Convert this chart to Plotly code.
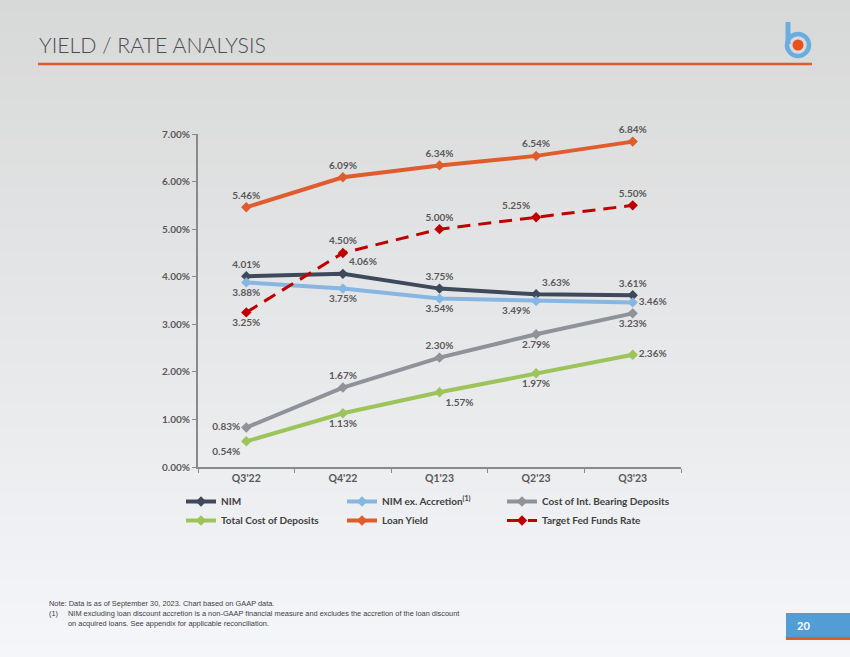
import plotly.graph_objects as go

quarters = ["Q3'22", "Q4'22", "Q1'23", "Q2'23", "Q3'23"]

nim = [4.01, 4.06, 3.75, 3.63, 3.61]
nim_ex_accretion = [3.88, 3.75, 3.54, 3.49, 3.46]
cost_int_bearing = [0.83, 1.67, 2.30, 2.79, 3.23]
total_cost_deposits = [0.54, 1.13, 1.57, 1.97, 2.36]
loan_yield = [5.46, 6.09, 6.34, 6.54, 6.84]
fed_funds = [3.25, 4.50, 5.00, 5.25, 5.50]

# where each data label sits relative to its point
pos_nim = ["top center", "top right", "top center", "top right", "top center"]
pos_nim_ex = ["bottom center", "bottom center", "bottom center", "bottom left", "middle right"]
pos_cost_ib = ["middle left", "top center", "top center", "bottom center", "bottom center"]
pos_total = ["bottom left", "bottom center", "bottom right", "bottom center", "middle right"]
pos_loan = ["top center"] * 5
pos_fed = ["bottom center", "top center", "top center", "top left", "top center"]

# plot area in page pixels
L, R, T, B = 198, 681, 134, 467
W, H = 850, 657


def xp(px):
    return (px - L) / (R - L)


def yp(py):
    return (B - py) / (B - T)


label_font = dict(family="Lato", size=10, color="#595959", weight="bold")


def series(name, values, color, positions, legend, dash="solid", width=4):
    return go.Scatter(
        x=quarters, y=values, name=name, legend=legend,
        mode="lines+markers+text",
        line=dict(color=color, width=width, dash=dash),
        marker=dict(symbol="diamond", size=8, color=color),
        text=[f"{v:.2f}%" for v in values],
        textposition=positions,
        textfont=label_font,
        cliponaxis=False,
    )


# legend is laid out as three columns of two entries
fig = go.Figure()
fig.add_trace(series("NIM", nim, "#3e4a5b", pos_nim, "legend"))
fig.add_trace(series("NIM ex. Accretion<sup>(1)</sup>", nim_ex_accretion, "#86b6e2", pos_nim_ex, "legend2"))
fig.add_trace(series("Cost of Int. Bearing Deposits", cost_int_bearing, "#8e9299", pos_cost_ib, "legend3"))
fig.add_trace(series("Total Cost of Deposits", total_cost_deposits, "#9dc45a", pos_total, "legend"))
fig.add_trace(series("Loan Yield", loan_yield, "#e05c2c", pos_loan, "legend2"))
fig.add_trace(series("Target Fed Funds Rate", fed_funds, "#c00000", pos_fed, "legend3",
                     dash="13px,8px", width=3))

shapes = []
# soft grey-to-white page gradient
n_bands = 60
top_rgb = (216, 216, 216)
bot_rgb = (244, 246, 249)
for i in range(n_bands):
    f = i / (n_bands - 1)
    c = tuple(round(top_rgb[k] + (bot_rgb[k] - top_rgb[k]) * f) for k in range(3))
    y0 = H * i / n_bands
    y1 = H * (i + 1) / n_bands + 1
    shapes.append(dict(type="rect", xref="paper", yref="paper", layer="below",
                       x0=xp(0), x1=xp(W), y0=yp(y1), y1=yp(y0),
                       line=dict(width=0), fillcolor=f"rgb{c}"))

# orange rule under the title
shapes.append(dict(type="line", xref="paper", yref="paper",
                   x0=xp(38), x1=xp(812), y0=yp(64), y1=yp(64),
                   line=dict(color="#e05a2b", width=2.5)))

# logo: blue "b" with orange dot
shapes.append(dict(type="line", xref="paper", yref="paper",
                   x0=xp(788), x1=xp(788), y0=yp(22), y1=yp(44),
                   line=dict(color="#6aaee0", width=5)))
shapes.append(dict(type="circle", xref="paper", yref="paper",
                   x0=xp(787), x1=xp(809), y0=yp(56), y1=yp(34),
                   line=dict(color="#6aaee0", width=4.5), fillcolor="rgba(0,0,0,0)"))
shapes.append(dict(type="circle", xref="paper", yref="paper",
                   x0=xp(792.5), x1=xp(803.5), y0=yp(50.5), y1=yp(39.5),
                   line=dict(width=0), fillcolor="#e8501f"))

# page-number box
shapes.append(dict(type="rect", xref="paper", yref="paper",
                   x0=xp(786), x1=xp(851), y0=yp(637), y1=yp(613),
                   line=dict(width=0), fillcolor="#529dd6"))
shapes.append(dict(type="rect", xref="paper", yref="paper",
                   x0=xp(786), x1=xp(851), y0=yp(640), y1=yp(637),
                   line=dict(width=0), fillcolor="#e05a2b"))

note_font = dict(family="Liberation Sans Narrow, Liberation Sans", size=7.4, color="#404040")

annotations = [
    dict(text="YIELD / RATE ANALYSIS", x=xp(37), y=yp(45), xref="paper", yref="paper",
         xanchor="left", yanchor="middle", showarrow=False,
         font=dict(family="Lato", size=21.3, color="#4a4d52", weight=300)),
    dict(text="20", x=xp(803), y=yp(625), xref="paper", yref="paper",
         xanchor="center", yanchor="middle", showarrow=False,
         font=dict(family="Lato", size=11, color="white", weight="bold")),
    dict(text="Note: Data is as of September 30, 2023. Chart based on GAAP data.",
         x=xp(47), y=yp(603), xref="paper", yref="paper", xanchor="left", yanchor="middle",
         showarrow=False, font=note_font),
    dict(text="(1)", x=xp(47), y=yp(613), xref="paper", yref="paper", xanchor="left", yanchor="middle",
         showarrow=False, font=note_font),
    dict(text="NIM excluding loan discount accretion is a non-GAAP financial measure and excludes the accretion of the loan discount",
         x=xp(66), y=yp(613), xref="paper", yref="paper", xanchor="left", yanchor="middle",
         showarrow=False, font=note_font),
    dict(text="on acquired loans. See appendix for applicable reconciliation.",
         x=xp(66), y=yp(623), xref="paper", yref="paper", xanchor="left", yanchor="middle",
         showarrow=False, font=note_font),
]

legend_style = dict(orientation="v", xanchor="left", yanchor="top",
                    bgcolor="rgba(0,0,0,0)", tracegroupgap=0,
                    font=dict(family="Lato", size=10, color="#404040", weight="bold"))

fig.update_layout(
    width=W, height=H,
    margin=dict(l=L, r=W - R, t=T, b=H - B, pad=0),
    paper_bgcolor="#e6e7e9",
    plot_bgcolor="rgba(0,0,0,0)",
    shapes=shapes,
    annotations=annotations,
    showlegend=True,
    legend=dict(x=xp(181), y=yp(487), **legend_style),
    legend2=dict(x=xp(342), y=yp(487), **legend_style),
    legend3=dict(x=xp(502), y=yp(487), **legend_style),
    xaxis=dict(range=[-0.5, 4.5], showgrid=False, zeroline=False,
               showline=True, linecolor="#8a8a8a", linewidth=2,
               ticks="outside", tickson="boundaries", ticklen=4, tickcolor="#8a8a8a",
               tickfont=dict(family="Lato", size=10.5, color="#595959", weight="bold")),
    yaxis=dict(range=[0, 7], dtick=1, showgrid=False, zeroline=False,
               showline=True, linecolor="#8a8a8a", linewidth=2,
               ticks="outside", ticklen=4, tickcolor="#8a8a8a",
               tickformat=".2f", ticksuffix="%",
               tickfont=dict(family="Lato", size=10, color="#595959", weight="bold")),
)

# drop the browser's default page margin so the slide fills the window
fig.write_html("out.html", config={"displayModeBar": False},
               post_script="document.body.style.margin='0';")
